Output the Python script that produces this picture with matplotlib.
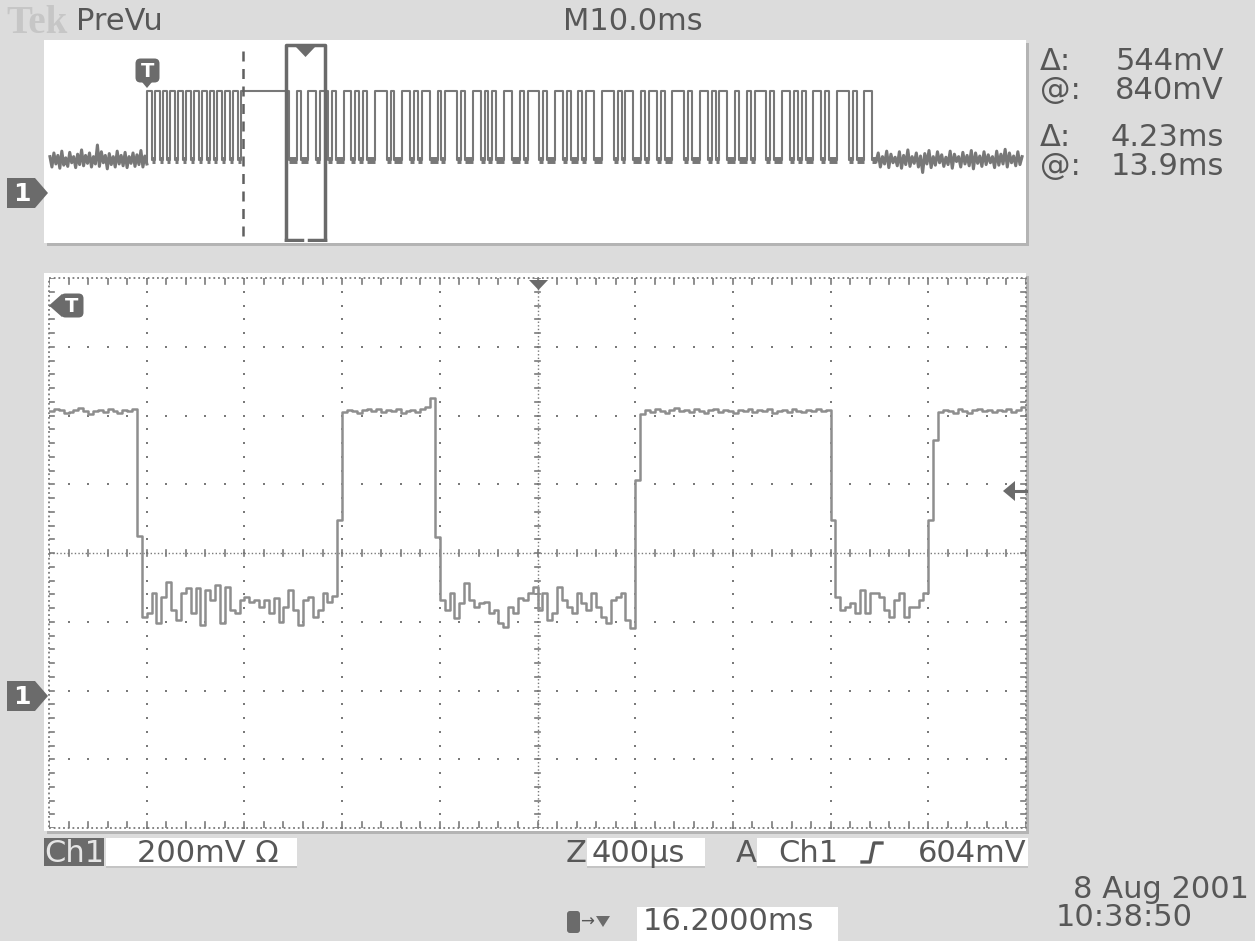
import numpy as np
import matplotlib
matplotlib.use("Agg")
import matplotlib.pyplot as plt
from matplotlib.patches import Rectangle, Polygon, FancyBboxPatch

W, H = 1255, 941
BG = "#dcdcdc"
INK = "#575757"
TRACE = "#8e8e8e"
PTRACE = "#787878"
GRID = "#7a7a7a"
MARK = "#6b6b6b"
FONT = "DejaVu Sans"
FS = 22

# ---- zoom window (main graticule): 400us/div, 200mV/div, centre 16.2ms after trigger
t_start_ms = 14.2
dt_ms = 0.02
ch1_mv = [
    828, 834, 831, 822, 826, 831, 836, 829, 820, 828, 832, 826, 834, 829, 823, 831, 828, 833,
    464,
    229, 240, 299, 211, 287, 331, 249, 220, 299, 313, 240, 313, 206, 307, 278, 322, 211, 316, 249, 240,
    278, 287, 272, 278, 258, 278, 240, 284, 214, 258, 307, 249, 206, 278, 287, 229, 249, 299, 272, 290,
    511,
    826, 832, 829, 821, 830, 835, 827, 833, 824, 830, 828, 834, 822, 829, 831, 826, 833, 840,
    866, 462,
    278, 249, 299, 226, 269, 328, 278, 258, 269, 272, 240, 249, 211, 200, 258, 240, 284, 278, 299, 316,
    249, 299, 220, 240, 316, 278, 258, 240, 299, 269, 249, 299, 258, 229, 211, 278, 287, 299, 220, 197,
    627,
    818, 832, 826, 834, 829, 822, 831, 836, 827, 830, 824, 833, 828, 821, 830, 835, 826, 832, 829, 823,
    831, 827, 834, 825, 830, 828, 833, 822, 829, 831, 826, 834, 828, 824, 831, 829, 833, 827, 830,
    511,
    287, 249, 258, 269, 240, 307, 240, 299, 299, 287, 249, 229, 278, 299, 229, 258, 258, 278, 299,
    511, 744,
    826, 831, 829, 823, 834, 828, 822, 830, 835, 827, 832, 825, 830, 828, 834, 826, 831, 840, 829,
]

# ---- PreVu record: 10ms/div, trigger at 10.2ms
pre_noise_mv = [300, 215, 330, 240, 310, 205, 345, 230, 290, 220, 335, 250, 300, 210, 320, 235, 355,
                225, 310, 245, 330, 215, 300, 240, 395, 220, 340, 250, 310, 200, 325, 235, 300, 215,
                345, 240, 310, 225, 335, 210, 300, 245, 330, 220, 315, 235, 350, 215, 305, 240]
post_noise_mv = [260, 330, 215, 300, 240, 345, 210, 320, 250, 295, 225, 340, 205, 310, 235, 355, 220,
                 300, 245, 330, 215, 305, 170, 325, 240, 350, 210, 300, 230, 340, 250, 315, 220, 295,
                 235, 345, 205, 320, 260, 300, 215, 335, 240, 310, 225, 350, 200, 330, 245, 305, 220,
                 340, 235, 315, 250, 300, 210, 345, 230, 320, 240, 360, 215, 330, 250, 305, 225, 340,
                 235, 300]
# alternating high / low durations (ms) starting high at the trigger
burst_runs_ms = [0.5, 0.3] * 12 + [4.95, 0.78, 0.37, 0.8, 0.79, 0.4,
                 0.8, 0.4, 0.4, 0.8, 0.8, 0.4, 0.4, 0.4, 0.4, 0.8, 1.2, 0.4, 0.4, 0.8,
                 0.8, 0.4, 0.4, 0.4, 0.8, 0.8, 0.4, 0.4, 1.2, 0.4, 0.4, 0.8, 0.8, 0.4,
                 0.4, 0.4, 0.4, 0.8, 0.8, 0.8, 0.4, 0.4, 1.2, 0.4, 0.4, 0.8, 0.8, 0.4,
                 0.4, 0.8, 0.4, 0.4, 0.8, 0.8, 1.2, 0.4, 0.4, 0.4, 0.8, 0.8, 0.4, 0.4,
                 0.8, 0.4, 0.4, 0.8, 1.2, 0.4, 0.4, 0.8, 0.8, 0.4, 0.4, 0.4, 0.8, 0.8,
                 0.4, 0.8, 0.4, 0.4, 1.2, 0.4, 0.4, 0.8, 0.8, 0.4, 0.4, 0.4, 0.4, 0.8,
                 0.8, 0.4, 0.4, 0.8, 1.2, 0.4, 0.4, 0.8, 0.8, 0.4]
burst_hi_mv = 838
burst_lo_mv = 272
trigger_ms = 10.2
cursor_ms = 20.0
pre_start_ms, post_end_ms = 0.3, 99.6

readouts = [("\u0394:", "544mV"), ("@:", "840mV"), ("\u0394:", "4.23ms"), ("@:", "13.9ms")]


def px(x0, y0, x1, y1):
    # figure rect from pixel box (y measured from top)
    return [x0 / W, 1 - y1 / H, (x1 - x0) / W, (y1 - y0) / H]


fig = plt.figure(figsize=(W / 100, H / 100), dpi=100, facecolor=BG)

# background chrome (pixel coords)
bg = fig.add_axes([0, 0, 1, 1], zorder=0)
bg.set_xlim(0, W)
bg.set_ylim(H, 0)
bg.axis("off")
for (x0, y0, x1, y1) in [(44, 40, 1026, 243), (44, 273, 1026, 831)]:
    bg.add_patch(Rectangle((x0 + 3, y0 + 3), x1 - x0, y1 - y0, color="#b4b4b4", lw=0))
    bg.add_patch(Rectangle((x0, y0), x1 - x0, y1 - y0, color="white", lw=0))

# ---------------- PreVu window
pv = fig.add_axes(px(47, 42, 1026, 242), zorder=1)
pv.set_xlim(0, 100)
pv.set_ylim(-400, 1240)
pv.axis("off")

xs = np.linspace(pre_start_ms, trigger_ms, len(pre_noise_mv))
pv.plot(xs, pre_noise_mv, color=PTRACE, lw=2.2)
edges = trigger_ms + np.concatenate([[0], np.cumsum(burst_runs_ms)])
levels = [burst_hi_mv if i % 2 == 0 else burst_lo_mv for i in range(len(burst_runs_ms))]
bx = np.repeat(edges, 2)[1:-1]
by = np.repeat(levels, 2)
pv.plot(np.concatenate([[trigger_ms], bx]), np.concatenate([[pre_noise_mv[-1]], by]),
        color=PTRACE, lw=1.5)
# noisy bottoms of the low bits
for i in range(1, len(burst_runs_ms), 2):
    pv.plot([edges[i], edges[i + 1]], [burst_lo_mv, burst_lo_mv], color=PTRACE, lw=5,
            solid_capstyle="butt")
xs = np.linspace(edges[-1], post_end_ms, len(post_noise_mv))
pv.plot(xs, post_noise_mv, color=PTRACE, lw=2.2)

pv.axvline(cursor_ms, ymin=0.03, ymax=0.97, color="#606060", lw=1.8, ls=(0, (4, 3)))
zoom_lo = trigger_ms + t_start_ms
zoom_hi = zoom_lo + dt_ms * (len(ch1_mv) - 1)
pv.plot([zoom_lo, zoom_lo, zoom_hi, zoom_hi], [-385, 1215, 1215, -385], color="#6a6a6a", lw=2.5)
pv.plot([zoom_lo, zoom_lo + 1.6], [-385, -385], color="#6a6a6a", lw=2.5)
pv.plot([zoom_hi - 1.6, zoom_hi], [-385, -385], color="#6a6a6a", lw=2.5)

# ---------------- main graticule
ax = fig.add_axes(px(49, 278, 1026, 828), zorder=1)
x0, x1 = t_start_ms, t_start_ms + 4.0
y0, y1 = -385, 1215
ax.set_xlim(x0, x1)
ax.set_ylim(y0, y1)
ax.axis("off")
ax.patch.set_alpha(0)

xdiv, ydiv = 0.4, 200
xmaj = [x0 + xdiv * k for k in range(11)]
ymaj = [y0 + ydiv * k for k in range(9)]
xmin_ = [x0 + xdiv / 5 * k for k in range(51)]
ymin_ = [y0 + ydiv / 5 * k for k in range(41)]
xc, yc = xmaj[5], ymaj[4]

for yy in ymaj[1:-1]:
    if yy == yc:
        continue
    ax.scatter(xmin_, [yy] * len(xmin_), s=2.2, marker="s", color=GRID, lw=0)
for xx in xmaj[1:-1]:
    if xx == xc:
        continue
    ax.scatter([xx] * len(ymin_), ymin_, s=2.2, marker="s", color=GRID, lw=0)

dot = (0, (1, 1.6))
ax.plot([x0, x1], [yc, yc], color=GRID, lw=1.0, ls=dot)
ax.plot([xc, xc], [y0, y1], color=GRID, lw=1.0, ls=dot)
ax.plot([x0, x1, x1, x0, x0], [y0, y0, y1, y1, y0], color=GRID, lw=1.3, ls=dot, clip_on=False)
tx = 0.012
ty = 10
for xx in xmin_:
    ax.plot([xx, xx], [yc - ty, yc + ty], color=GRID, lw=1.2)
    ax.plot([xx, xx], [y1, y1 - 1.8 * ty], color=GRID, lw=1.2)
    ax.plot([xx, xx], [y0, y0 + 1.8 * ty], color=GRID, lw=1.2)
for yy in ymin_:
    ax.plot([xc - tx, xc + tx], [yy, yy], color=GRID, lw=1.2)
    ax.plot([x0, x0 + 1.8 * tx], [yy, yy], color=GRID, lw=1.2)
    ax.plot([x1, x1 - 1.8 * tx], [yy, yy], color=GRID, lw=1.2)

t = t_start_ms + dt_ms * np.arange(len(ch1_mv))
ax.step(t, ch1_mv, where="post", color=TRACE, lw=1.8, zorder=3)

# ---------------- overlay: markers and readouts (pixel coords)
ov = fig.add_axes([0, 0, 1, 1], zorder=3)
ov.set_xlim(0, W)
ov.set_ylim(H, 0)
ov.axis("off")
ov.patch.set_alpha(0)

# channel ground markers
for cy in (193, 696):
    ov.add_patch(Polygon([(7, cy - 15), (35, cy - 15), (48, cy), (35, cy + 15), (7, cy + 15)],
                         closed=True, color=MARK, lw=0))
    ov.text(22, cy + 1, "1", color="white", fontsize=18, fontweight="bold",
            ha="center", va="center", family=FONT)

# trigger markers
ov.add_patch(FancyBboxPatch((137, 60), 21, 21, boxstyle="round,pad=1.5,rounding_size=5", color=MARK, lw=0))
ov.add_patch(Polygon([(142, 82), (152, 82), (147, 88)], closed=True, color=MARK, lw=0))
ov.text(147.5, 71, "T", color="white", fontsize=14, fontweight="bold", ha="center", va="center", family=FONT)
ov.add_patch(FancyBboxPatch((62, 295), 20, 21, boxstyle="round,pad=1.5,rounding_size=5", color=MARK, lw=0))
ov.add_patch(Polygon([(62, 294), (62, 317), (49, 305.5)], closed=True, color=MARK, lw=0))
ov.text(72, 306, "T", color="white", fontsize=14, fontweight="bold", ha="center", va="center", family=FONT)

# trigger level arrow
ov.add_patch(Polygon([(1003, 491), (1015, 481), (1015, 501)], closed=True, color=MARK, lw=0))
ov.plot([1014, 1026], [491, 491], color=MARK, lw=2.2)
# horizontal position markers
ov.add_patch(Polygon([(529, 280), (548, 280), (538.5, 290)], closed=True, color=MARK, lw=0))
ov.add_patch(Polygon([(296, 47), (315, 47), (305.5, 57)], closed=True, color=MARK, lw=0))

# header
ov.text(6, 23, "Tek", color="#c6c6c6", fontsize=28, fontweight="bold", family="Liberation Serif",
        va="center", ha="left")
ov.text(76, 21, "PreVu", color=INK, fontsize=FS, family=FONT, va="center", ha="left")
ov.text(633, 21, "M10.0ms", color=INK, fontsize=FS, family=FONT, va="center", ha="center")

for (lab, val), cy in zip(readouts, (61, 90, 137, 166)):
    ov.text(1040, cy, lab, color=INK, fontsize=FS, family=FONT, va="center", ha="left")
    ov.text(1224, cy, val, color=INK, fontsize=FS, family=FONT, va="center", ha="right")

# bottom status boxes
for (bx0, by0, bx1, by1) in [(106, 838, 297, 866), (587, 838, 705, 866), (757, 838, 1028, 866),
                             (637, 907, 838, 941)]:
    ov.add_patch(Rectangle((bx0, by0 + 2), bx1 - bx0, by1 - by0, color="#c4c4c4", lw=0))
    ov.add_patch(Rectangle((bx0, by0), bx1 - bx0, by1 - by0, color="white", lw=0))
ov.add_patch(Rectangle((44, 838), 60, 28, color=MARK, lw=0))
ov.text(74, 853, "Ch1", color="#e6e6e6", fontsize=FS, family=FONT, va="center", ha="center")
ov.text(137, 853, "200mV \u03a9", color=INK, fontsize=FS, family=FONT, va="center", ha="left")
ov.text(576, 853, "Z", color=INK, fontsize=FS, family=FONT, va="center", ha="center")
ov.text(592, 853, "400\u00b5s", color=INK, fontsize=FS, family=FONT, va="center", ha="left")
ov.text(746, 853, "A", color=INK, fontsize=FS, family=FONT, va="center", ha="center")
ov.text(778, 853, "Ch1", color=INK, fontsize=FS, family=FONT, va="center", ha="left")
ov.plot([862, 870, 874, 882], [862, 862, 843, 843], color=INK, lw=2.4)
ov.text(1026, 853, "604mV", color=INK, fontsize=FS, family=FONT, va="center", ha="right")
ov.text(1249, 890, "8 Aug 2001", color=INK, fontsize=FS, family=FONT, va="center", ha="right")
ov.text(1056, 918, "10:38:50", color=INK, fontsize=FS, family=FONT, va="center", ha="left")
ov.add_patch(FancyBboxPatch((568, 912), 11, 20, boxstyle="round,pad=1,rounding_size=3", color=MARK, lw=0))
ov.text(587, 922, "\u2192", color=INK, fontsize=12, family=FONT, va="center", ha="center")
ov.add_patch(Polygon([(596, 916), (610, 916), (603, 927)], closed=True, color=MARK, lw=0))
ov.text(643, 922, "16.2000ms", color=INK, fontsize=FS, family=FONT, va="center", ha="left")

fig.savefig("out.png", dpi=100, facecolor=BG)
